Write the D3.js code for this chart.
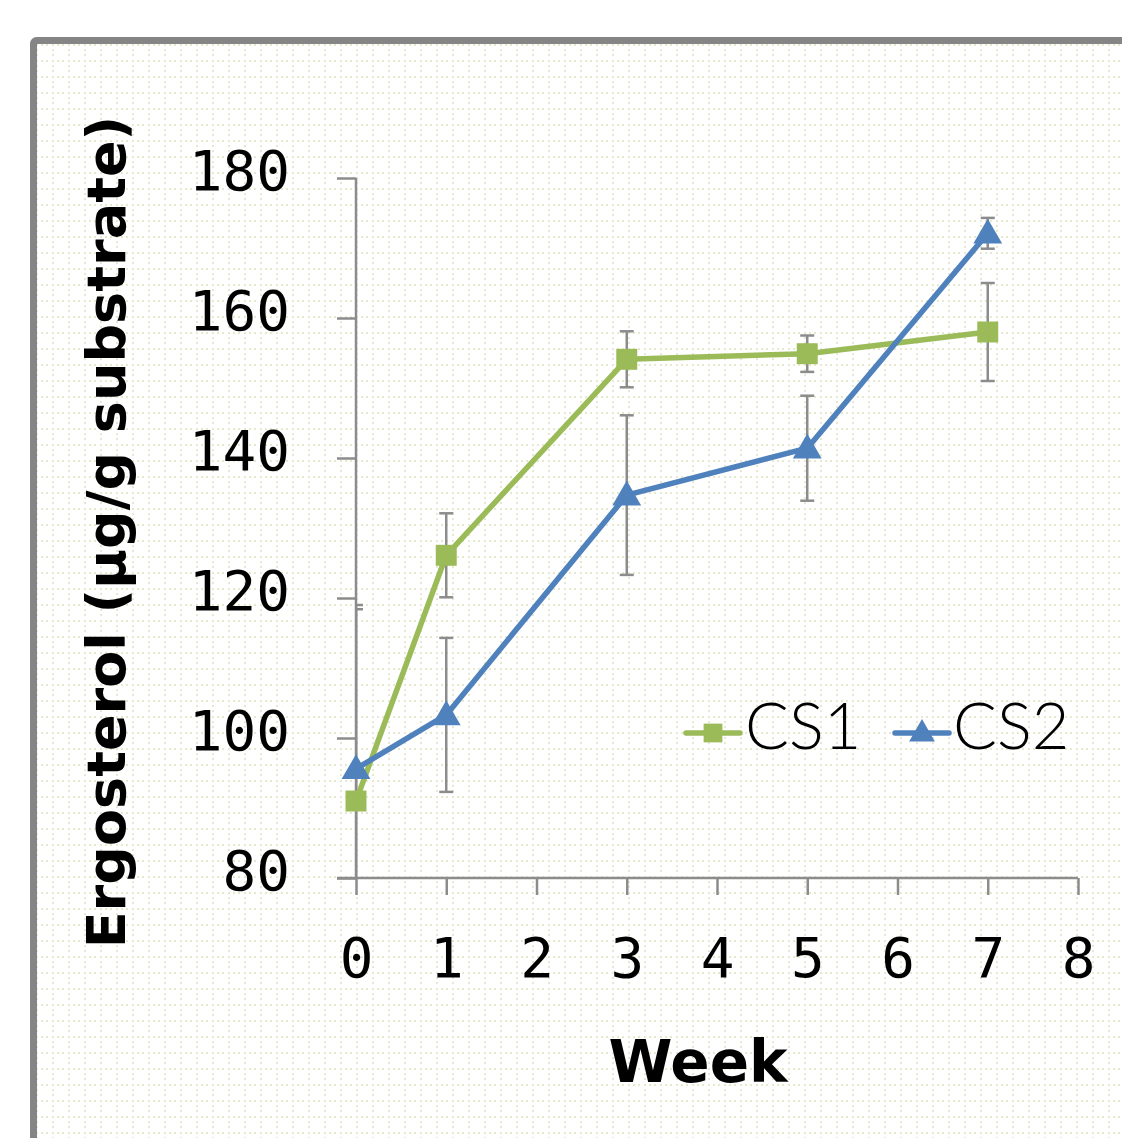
<!DOCTYPE html>
<html>
<head>
<meta charset="utf-8">
<script src="https://cdn.jsdelivr.net/npm/d3@7"></script>
<style>
  body { margin: 0; background: #fff; }
  svg { display: block; }
</style>
</head>
<body>
<div id="chart"></div>
<script>
// data
const weeks = [0, 1, 3, 5, 7];
const cs1 = [91, 126.1, 154.1, 154.9, 158];
const cs1Err = [28, 6, 4, 2.6, 7];
const cs2 = [95.6, 103.3, 134.7, 141.4, 172.1];
const cs2Err = [22.8, 11, 11.4, 7.5, 2.2];
const xTicks = [0, 1, 2, 3, 4, 5, 6, 7, 8];
const yTicks = [80, 100, 120, 140, 160, 180];

const W = 1122, H = 1138;
const svg = d3.select("#chart").append("svg")
  .attr("width", W).attr("height", H);

// dotted paper background
const defs = svg.append("defs");
const pat = defs.append("pattern")
  .attr("id", "dots").attr("patternUnits", "userSpaceOnUse")
  .attr("width", 16).attr("height", 16).attr("x", 36).attr("y", 44);
[0, 5, 10].forEach(o => {
  pat.append("rect").attr("x", o).attr("y", 0).attr("width", 2).attr("height", 2).attr("fill", "#e6e9cf");
  if (o > 0) pat.append("rect").attr("x", 0).attr("y", o).attr("width", 2).attr("height", 2).attr("fill", "#e6e9cf");
});

svg.append("rect").attr("x", 34).attr("y", 41).attr("width", W).attr("height", H)
  .attr("fill", "url(#dots)");
svg.append("rect").attr("x", 33.5).attr("y", 40.5).attr("width", W + 20).attr("height", H + 20)
  .attr("rx", 3).attr("fill", "none").attr("stroke", "#858585").attr("stroke-width", 7);

const x = d3.scaleLinear().domain([0, 8]).range([356, 1078]);
const y = d3.scaleLinear().domain([80, 180]).range([878, 178]);

const axisColor = "#8c8c8c";

// y axis
const yAxis = svg.append("g").attr("transform", "translate(356,0)")
  .call(d3.axisLeft(y).tickValues(yTicks).tickSize(19).tickPadding(47));
// x axis
const xAxis = svg.append("g").attr("transform", "translate(0,878)")
  .call(d3.axisBottom(x).tickValues(xTicks).tickSize(17).tickPadding(40));

[yAxis, xAxis].forEach(g => {
  g.select(".domain").remove();
  g.selectAll(".tick line").attr("stroke", axisColor).attr("stroke-width", 2.5);
  g.selectAll(".tick text")
    .attr("fill", "#000")
    .style("font-family", "'DejaVu Sans Mono', monospace")
    .style("font-size", "56px");
});
yAxis.selectAll(".tick text").attr("dy", "0.2em");
xAxis.selectAll(".tick text").attr("dy", "0.75em");

svg.append("line").attr("x1", 356).attr("x2", 356).attr("y1", 178).attr("y2", 878)
  .attr("stroke", axisColor).attr("stroke-width", 2.5);
svg.append("line").attr("x1", 337).attr("x2", 1078).attr("y1", 878).attr("y2", 878)
  .attr("stroke", axisColor).attr("stroke-width", 2.5);

// series
const series = [
  { name: "CS1", vals: cs1, err: cs1Err, color: "#9bbb59", shape: d3.symbolSquare, size: 440 },
  { name: "CS2", vals: cs2, err: cs2Err, color: "#4f81bd", shape: d3.symbolTriangle, size: 360 }
];

defs.append("clipPath").attr("id", "plot")
  .append("rect").attr("x", 356).attr("y", 170).attr("width", 740).attr("height", 708);

// error bars
const eb = svg.append("g").attr("clip-path", "url(#plot)")
  .attr("stroke", axisColor).attr("stroke-width", 2.5);
series.forEach(s => {
  weeks.forEach((w, i) => {
    const hi = y(s.vals[i] + s.err[i]), lo = y(s.vals[i] - s.err[i]), cx = x(w);
    eb.append("line").attr("x1", cx).attr("x2", cx).attr("y1", hi).attr("y2", lo);
    eb.append("line").attr("x1", cx - 7).attr("x2", cx + 7).attr("y1", hi).attr("y2", hi);
    eb.append("line").attr("x1", cx - 7).attr("x2", cx + 7).attr("y1", lo).attr("y2", lo);
  });
});

const line = d3.line().x((d, i) => x(weeks[i])).y(d => y(d));
series.forEach(s => {
  svg.append("path").datum(s.vals).attr("d", line)
    .attr("fill", "none").attr("stroke", s.color).attr("stroke-width", 5.5)
    .attr("stroke-linejoin", "round");
  svg.selectAll(null).data(s.vals).enter().append("path")
    .attr("d", d3.symbol().type(s.shape).size(s.size))
    .attr("transform", (d, i) => `translate(${x(weeks[i])},${y(d) + (s.shape === d3.symbolTriangle ? 2 : 0)})`)
    .attr("fill", s.color);
});

// legend
const legendPos = [{ x: 686, tx: 745 }, { x: 895, tx: 953 }];
series.forEach((s, i) => {
  const g = svg.append("g");
  const lp = legendPos[i];
  g.append("line").attr("x1", lp.x).attr("x2", lp.x + 54).attr("y1", 733).attr("y2", 733)
    .attr("stroke", s.color).attr("stroke-width", 5.5).attr("stroke-linecap", "round");
  g.append("path").attr("d", d3.symbol().type(s.shape).size(s.size * 0.8)())
    .attr("transform", `translate(${lp.x + 27},${733 + (s.shape === d3.symbolTriangle ? 1 : 0)})`)
    .attr("fill", s.color);
  g.append("text").attr("x", lp.tx).attr("y", 749).text(s.name)
    .style("font-family", "Lato, sans-serif").style("font-weight", 300).style("font-size", "65px")
    .attr("fill", "#000");
});

// axis titles
svg.append("text").attr("x", 698).attr("y", 1082).attr("text-anchor", "middle")
  .text("Week").style("font-family", "'DejaVu Sans', sans-serif").style("font-weight", "bold")
  .style("font-size", "58px").attr("fill", "#000");

svg.append("text").attr("transform", "translate(125,532) rotate(-90)").attr("text-anchor", "middle")
  .text("Ergosterol (µg/g substrate)").style("font-family", "'DejaVu Sans', sans-serif")
  .style("font-weight", "bold").style("font-size", "54px").attr("fill", "#000");
</script>
</body>
</html>
